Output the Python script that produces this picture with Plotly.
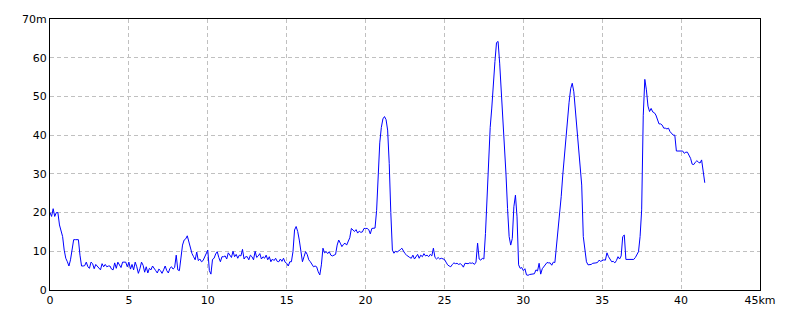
import numpy as np
import plotly.graph_objects as go

step_km = 0.1
elevation = [
    20, 19, 21, 19, 20, 20, 16.8, 15.5, 13.8, 10.3,
    8.2, 7.3, 6.2, 7.8, 10.3, 13, 13, 13, 13, 9,
    6.2, 6.2, 6.3, 7.2, 6.0, 5.6, 7.2, 6.8, 5.5, 6.6,
    6.2, 5.8, 5.2, 6.8, 6.0, 6.6, 6.0, 6.2, 6.2, 5.4,
    5.2, 7.0, 5.6, 7.2, 6.4, 5.8, 7.2, 7.2, 7.2, 6.0,
    7.2, 5.4, 6.6, 5.2, 7.2, 6.0, 4.3, 5.5, 7.2, 6.4,
    4.6, 6.0, 4.4, 5.6, 5.2, 6.2, 5.4, 5.0, 4.4, 5.4,
    5.0, 4.3, 5.2, 6.2, 5.0, 4.4, 5.6, 6.0, 5.4, 5.8,
    9.0, 5.2, 5.0, 9.0, 11.6, 12.9, 13.2, 14.0, 12.5, 10.8,
    9.4, 8.6, 7.8, 9.8, 7.6, 8.0, 7.3, 7.6, 8.6, 9.4,
    10.3, 5.0, 4.1, 7.9, 8.2, 9.3, 9.9, 8.4, 7.3, 8.6,
    8.6, 8.8, 8.0, 9.6, 9.0, 8.4, 10.0, 8.6, 9.2, 8.2,
    9.0, 8.8, 10.5, 8.0, 8.6, 8.6, 7.8, 9.0, 8.6, 7.8,
    10.0, 8.4, 8.8, 9.4, 8.0, 8.6, 8.2, 9.0, 7.8, 8.6,
    7.3, 8.0, 7.6, 8.2, 7.4, 7.3, 8.0, 7.4, 8.2, 7.2,
    6.9, 6.2, 7.3, 7.3, 9.9, 15.5, 16.4, 15.1, 12.9, 9.5,
    7.3, 8.6, 9.9, 9.2, 7.8, 7.3, 6.6, 6.0, 6.2, 6.0,
    4.7, 3.9, 6.5, 10.8, 9.6, 9.9, 9.4, 9.9, 9.0, 8.8,
    9.0, 9.2, 11.6, 12.9, 12.1, 11.2, 11.8, 12.1, 11.6, 12.5,
    13.5, 15.9, 15.5, 15.1, 15.6, 14.7, 15.2, 14.9, 15.0, 15.9,
    15.9, 15.9, 15.6, 14.5, 15.9, 15.9, 16.0, 20.5, 31, 38,
    42, 44.2, 44.8, 44.0, 41.3, 32.7, 20.0, 10.3, 9.5, 10.0,
    9.8, 10.0, 10.4, 10.8, 10.0, 9.4, 9.0, 8.6, 8.4, 8.2,
    9.0, 8.0, 8.6, 9.2, 8.2, 9.0, 8.6, 9.4, 8.8, 9.0,
    8.6, 9.2, 8.8, 10.8, 8.4, 8.0, 8.4, 8.0, 8.2, 8.0,
    7.9, 7.2, 6.5, 6.2, 6.0, 6.6, 7.0, 6.8, 6.9, 6.6,
    6.8, 6.5, 5.9, 6.9, 6.9, 6.8, 7.0, 6.9, 7.0, 6.6,
    7.2, 12.1, 8.0, 7.7, 8.2, 8.0, 14.6, 25, 34.4, 42.0,
    47, 54, 59, 63.9, 64.2, 58.6, 51.7, 46.5, 38.3, 30,
    21, 13.8, 11.6, 13.3, 21.5, 24.5, 18.9, 6.5, 5.6, 5.8,
    5.0, 5.5, 3.9, 3.8, 4.0, 4.1, 4.1, 4.2, 5.2, 4.9,
    6.9, 4.1, 5.5, 6.0, 6.4, 7.1, 7.0, 7.0, 6.4, 7.2,
    7.1, 11.2, 14.6, 19.8, 24.1, 29.7, 34.4, 40.9, 44.8, 48.5,
    52, 53.4, 51.2, 46.5, 39.6, 35.3, 31, 27.1, 13.8, 9.9,
    7.3, 6.5, 6.5, 6.6, 6.9, 6.9, 7.0, 7.1, 7.7, 7.4,
    7.5, 7.8, 7.7, 9.6, 8.6, 7.8, 7.3, 7.4, 7.0, 7.6,
    8.6, 8.0, 8.8, 13.8, 14.2, 7.9, 7.9, 7.9, 7.9, 7.9,
    7.9, 8.4, 9.0, 9.9, 13.8, 20.7, 45, 54.4, 51.7, 47.5,
    46.1, 46.9, 46.0, 45.8, 45.2, 43.9, 42.9, 42.9, 42.6, 41.8,
    41.8, 41.6, 41.8, 40.9, 40.5, 40.0, 40.0, 35.9, 35.9, 35.9,
    35.9, 35.9, 35.3, 35.6, 35.6, 34.8, 34.0, 32.5, 32.4, 33.0,
    33.4, 33.0, 32.8, 33.6, 30.6, 27.7,
]
distance = np.arange(len(elevation)) * step_km

x_ticks = [0, 5, 10, 15, 20, 25, 30, 35, 40, 45]
x_labels = ["0", "5", "10", "15", "20", "25", "30", "35", "40", "45km"]
y_ticks = [0, 10, 20, 30, 40, 50, 60, 70]
y_labels = ["0", "10", "20", "30", "40", "50", "60", "70m"]

fig = go.Figure()
fig.add_trace(go.Scatter(
    x=distance, y=elevation, mode="lines",
    line=dict(color="#0000ff", width=1),
    hoverinfo="x+y", showlegend=False,
))

font = dict(family="DejaVu Sans", size=11, color="#000000")
fig.update_layout(
    width=800, height=320,
    margin=dict(l=50, r=40, t=19, b=30),
    paper_bgcolor="white", plot_bgcolor="white",
    font=font,
)
common = dict(
    showgrid=True, gridcolor="#c0c0c0", griddash="4px,3px", gridwidth=1,
    showline=True, linecolor="#000000", linewidth=1, mirror=True,
    zeroline=False, ticks="", tickfont=font,
)
fig.update_xaxes(range=[0, 45], tickmode="array", tickvals=x_ticks,
                 ticktext=x_labels, **common)
fig.update_yaxes(range=[0, 70], tickmode="array", tickvals=y_ticks,
                 ticktext=y_labels, **common)

fig.write_html("out.html")
